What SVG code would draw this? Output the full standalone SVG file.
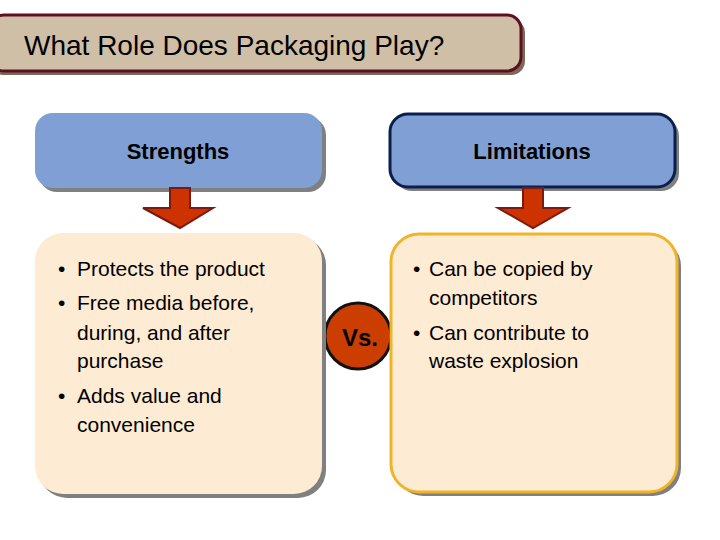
<svg xmlns="http://www.w3.org/2000/svg" width="720" height="540" viewBox="0 0 720 540">
<style>
text{font-family:"Liberation Sans",Arial,sans-serif;fill:#000}
.sh{fill:#808080}
.hd{font-size:22px;font-weight:bold;text-anchor:middle}
.bl{font-size:21px}
.ar{fill:#cc3300;stroke:#7a1a10;stroke-width:2}
</style>
<rect width="720" height="540" fill="#fff"/>
<g id="title">
<rect x="-10" y="19" width="535" height="56" rx="14" fill="#7a6a5a"/>
<rect x="-10" y="15" width="531" height="56" rx="14" fill="#d0bfa7" stroke="#5e1020" stroke-width="3"/>
<text x="24" y="55" font-size="28">What Role Does Packaging Play?</text>
</g>
<g id="vs">
<circle cx="358" cy="336" r="33" fill="#cc3d00" stroke="#111" stroke-width="3"/>
<text x="360" y="346" font-size="24" font-weight="bold" text-anchor="middle" fill="#222">Vs.</text>
</g>
<g id="strengths">
<rect class="sh" x="39" y="117" width="287" height="75" rx="18"/>
<rect x="35" y="113" width="287" height="75" rx="18" fill="#809fd4"/>
<text class="hd" x="178" y="159">Strengths</text>
</g>
<g id="limitations">
<rect class="sh" x="394" y="118" width="285" height="73" rx="18"/>
<rect x="390" y="114" width="285" height="73" rx="18" fill="#809fd4" stroke="#0a1f4e" stroke-width="3"/>
<text class="hd" x="532" y="159">Limitations</text>
</g>
<g id="connectors">
<path class="ar" d="M170 188 H190 V208 H213 L180 228 L143 208 H170 Z"/>
<path class="ar" d="M523 188 H543 V208 H568 L533 228 L498 208 H523 Z"/>
</g>
<g id="strengths-list">
<rect class="sh" x="39" y="237" width="287" height="261" rx="28"/>
<rect x="35" y="233" width="287" height="261" rx="28" fill="#fdebd3"/>
<text class="bl"><tspan x="58" y="276">•</tspan><tspan x="77" y="276">Protects the product</tspan>
<tspan x="58" y="310">•</tspan><tspan x="77" y="310">Free media before,</tspan>
<tspan x="77" y="340">during, and after</tspan>
<tspan x="77" y="368">purchase</tspan>
<tspan x="58" y="403">•</tspan><tspan x="77" y="403">Adds value and</tspan>
<tspan x="77" y="432">convenience</tspan></text>
</g>
<g id="limitations-list">
<rect class="sh" x="395" y="238" width="286" height="258" rx="28"/>
<rect x="391" y="234" width="286" height="258" rx="28" fill="#fdebd3" stroke="#f0b428" stroke-width="3"/>
<text class="bl"><tspan x="413" y="276">•</tspan><tspan x="429" y="276">Can be copied by</tspan>
<tspan x="429" y="305">competitors</tspan>
<tspan x="413" y="340">•</tspan><tspan x="429" y="340">Can contribute to</tspan>
<tspan x="429" y="368">waste explosion</tspan></text>
</g>
</svg>
